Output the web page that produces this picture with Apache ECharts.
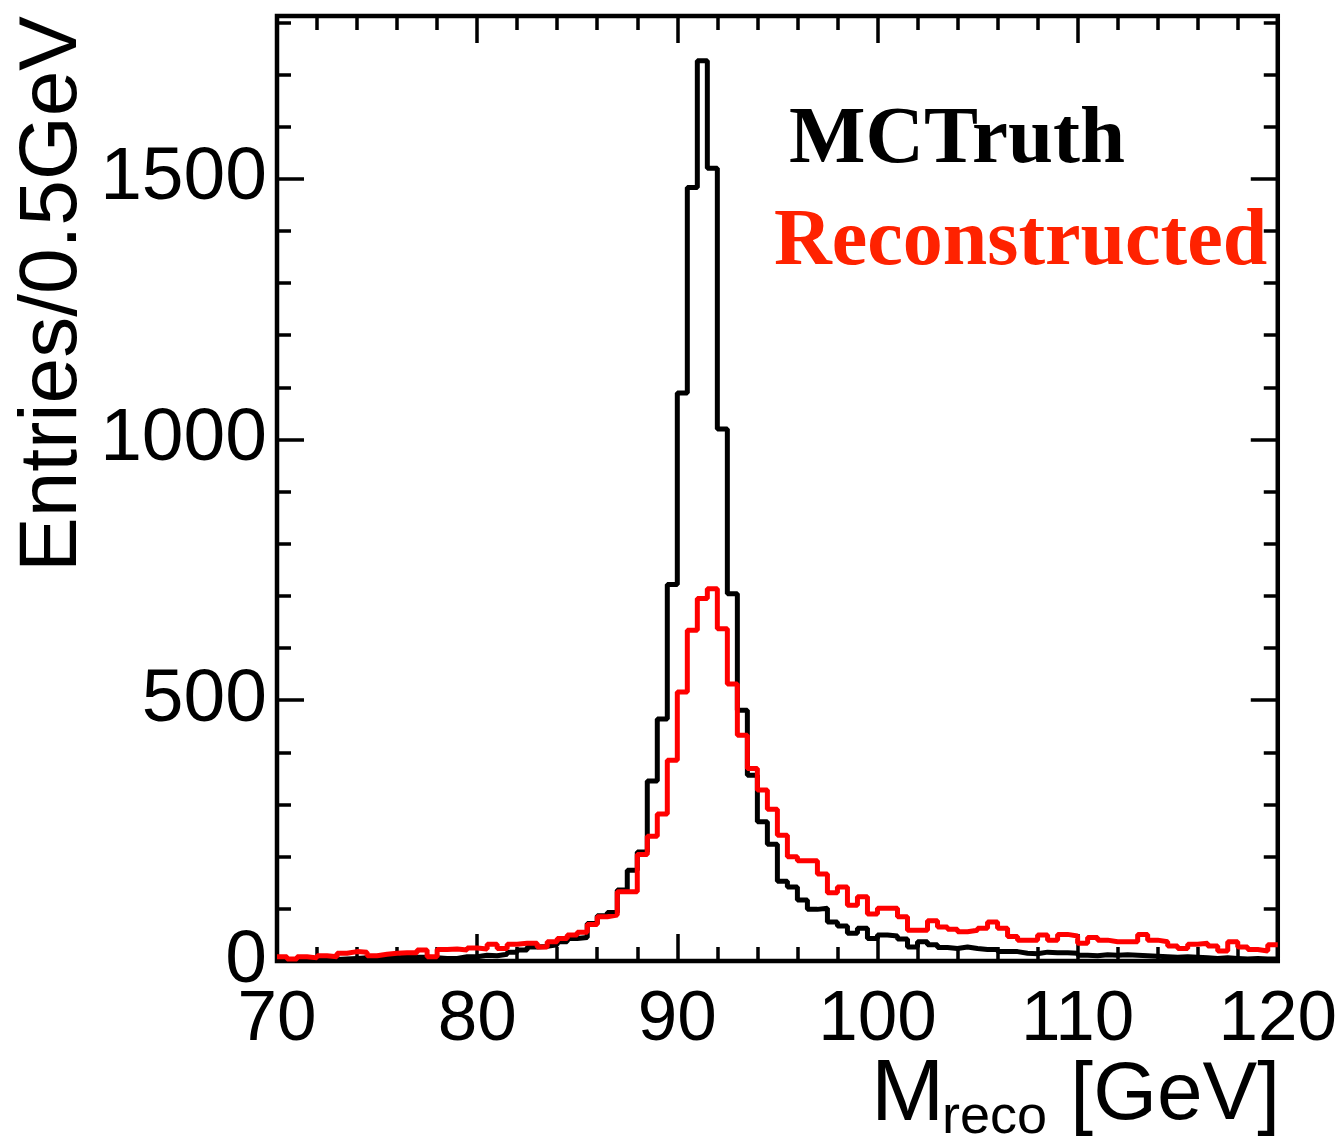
<!DOCTYPE html>
<html>
<head>
<meta charset="utf-8">
<script src="https://cdn.jsdelivr.net/npm/echarts@6/dist/echarts.min.js"></script>
<style>
  html, body { margin: 0; padding: 0; background: #fff; }
  #chart { width: 1340px; height: 1144px; }
</style>
</head>
<body>
<div id="chart"></div>
<script>
// binning: 100 bins of 0.5 GeV from 70 to 120
const xMin = 70;
const xMax = 120;
const binWidth = 0.5;
const yMax = 1812;

// MC truth entries per bin
const mcTruth = [
  2, 2, 3, 2, 3, 3, 4, 5, 6, 5,
  6, 6, 7, 7, 7, 6, 5, 5, 8, 8,
  11, 10, 13, 17, 21, 27, 28, 31, 37, 43,
  45, 72, 87, 93, 136, 174, 209, 345, 464, 722,
  1089, 1483, 1726, 1520, 1020, 704, 481, 356, 267, 224,
  153, 142, 117, 99, 101, 75, 67, 53, 63, 43,
  50, 48, 42, 27, 37, 31, 26, 24, 27, 24,
  22, 22, 18, 18, 15, 14, 17, 16, 16, 15,
  11, 10, 12, 11, 12, 11, 10, 9, 8, 7,
  8, 7, 6, 5, 6, 5, 4, 5, 4, 4
];

// reconstructed entries per bin
const reconstructed = [
  8, 4, 8, 6, 10, 8, 15, 18, 17, 10,
  13, 15, 16, 16, 21, 8, 22, 23, 21, 25,
  23, 32, 24, 32, 34, 34, 27, 37, 43, 50,
  55, 70, 85, 88, 133, 133, 204, 239, 282, 385,
  516, 634, 695, 714, 637, 531, 433, 369, 328, 291,
  241, 200, 192, 192, 167, 131, 142, 107, 123, 90,
  101, 101, 85, 59, 59, 77, 65, 61, 56, 59,
  63, 75, 63, 47, 40, 40, 50, 40, 51, 48,
  34, 45, 40, 37, 37, 37, 51, 40, 37, 29,
  24, 32, 34, 29, 19, 37, 27, 22, 19, 31
];

const yLabels = [0, 500, 1000, 1500];

// histogram -> step points at bin low edges, plus closing point at xMax
function toSteps(counts) {
  const pts = counts.map((v, i) => [xMin + i * binWidth, v]);
  pts.push([xMax, counts[counts.length - 1]]);
  return pts;
}

const sans = "'Liberation Sans', Arial, Helvetica, sans-serif";
const serif = "'Liberation Serif', 'Times New Roman', serif";

function xAxisOf(position, interval, tickLen, showLabel) {
  return {
    type: 'value', gridIndex: 0, position: position,
    min: xMin, max: xMax, interval: interval,
    axisLine: { show: false, onZero: false },
    splitLine: { show: false },
    axisTick: { show: true, inside: true, length: tickLen, lineStyle: { color: '#000', width: 3.5 } },
    axisLabel: {
      show: showLabel, margin: 24, color: '#000', fontFamily: sans, fontSize: 71
    }
  };
}

function yAxisOf(position, interval, tickLen, showLabel) {
  return {
    type: 'value', gridIndex: 0, position: position,
    min: 0, max: yMax, interval: interval,
    axisLine: { show: false, onZero: false },
    splitLine: { show: false },
    axisTick: { show: true, inside: true, length: tickLen, lineStyle: { color: '#000', width: 3.5 } },
    axisLabel: {
      show: showLabel, margin: 10, color: '#000', fontFamily: sans, fontSize: 75,
      formatter: v => (yLabels.indexOf(v) >= 0 ? String(v) : '')
    }
  };
}

const chart = echarts.init(document.getElementById('chart'), null, { renderer: 'canvas' });

chart.setOption({
  backgroundColor: '#fff',
  animation: false,
  grid: {
    left: 277, right: 62, top: 16, bottom: 183,
    show: true, borderColor: '#000', borderWidth: 4.5, backgroundColor: 'transparent'
  },
  xAxis: [
    xAxisOf('bottom', 10, 27, true),
    xAxisOf('bottom', 2, 14, false),
    xAxisOf('top', 10, 27, false),
    xAxisOf('top', 2, 14, false)
  ],
  yAxis: [
    yAxisOf('left', 500, 27, true),
    yAxisOf('left', 100, 14, false),
    yAxisOf('right', 500, 27, false),
    yAxisOf('right', 100, 14, false)
  ],
  series: [
    {
      name: 'MCTruth', type: 'line', step: 'end',
      xAxisIndex: 0, yAxisIndex: 0,
      data: toSteps(mcTruth), showSymbol: false, symbol: 'none',
      lineStyle: { color: '#000', width: 5 }, z: 3
    },
    {
      name: 'Reconstructed', type: 'line', step: 'end',
      xAxisIndex: 0, yAxisIndex: 0,
      data: toSteps(reconstructed), showSymbol: false, symbol: 'none',
      lineStyle: { color: '#ff0000', width: 5 }, z: 4
    }
  ],
  graphic: [
    // y title, rotated
    {
      type: 'text', x: 53, y: 16, rotation: Math.PI / 2,
      style: {
        text: 'Entries/0.5GeV', fill: '#000', font: '82px ' + sans,
        align: 'right', textAlign: 'right', verticalAlign: 'middle', textVerticalAlign: 'middle'
      }
    },
    // x title: M_reco [GeV]
    {
      type: 'text', x: 871, y: 1096,
      style: {
        text: 'M', fill: '#000', font: '88px ' + sans,
        align: 'left', textAlign: 'left', verticalAlign: 'middle', textVerticalAlign: 'middle'
      }
    },
    {
      type: 'text', x: 942, y: 1118,
      style: {
        text: 'reco', fill: '#000', font: '54px ' + sans,
        align: 'left', textAlign: 'left', verticalAlign: 'middle', textVerticalAlign: 'middle'
      }
    },
    {
      type: 'text', x: 1280, y: 1096,
      style: {
        text: '[GeV]', fill: '#000', font: '82px ' + sans,
        align: 'right', textAlign: 'right', verticalAlign: 'middle', textVerticalAlign: 'middle'
      }
    },
    // legend texts
    {
      type: 'text', x: 789, y: 141,
      style: {
        text: 'MCTruth', fill: '#000', font: 'bold 81px ' + serif,
        align: 'left', textAlign: 'left', verticalAlign: 'middle', textVerticalAlign: 'middle'
      }
    },
    {
      type: 'text', x: 774, y: 243,
      style: {
        text: 'Reconstructed', fill: '#ff2200', font: 'bold 80px ' + serif,
        align: 'left', textAlign: 'left', verticalAlign: 'middle', textVerticalAlign: 'middle'
      }
    }
  ]
});
</script>
</body>
</html>
